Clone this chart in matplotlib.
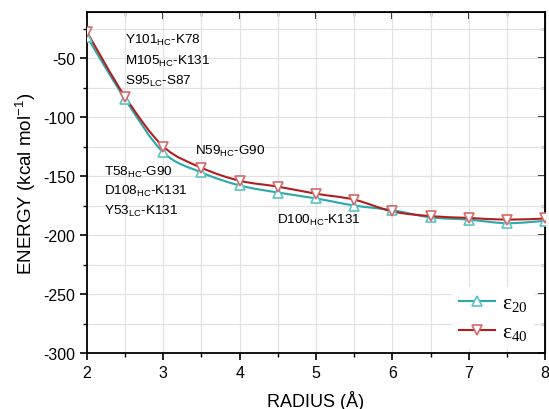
import numpy as np
import matplotlib
matplotlib.use("Agg")
import matplotlib.pyplot as plt
from matplotlib.path import Path
from matplotlib.patches import PathPatch
from matplotlib.ticker import MultipleLocator
from matplotlib.lines import Line2D

plt.rcParams['font.family'] = ['Liberation Sans', 'DejaVu Sans']
plt.rcParams['mathtext.default'] = 'regular'
plt.rcParams['axes.unicode_minus'] = False

radius = [2, 2.5, 3, 3.5, 4, 4.5, 5, 5.5, 6, 6.5, 7, 7.5, 8]
eps20 = [-32, -85, -130, -147, -158, -164, -169, -175, -179, -185, -187, -190, -188]
eps40 = [-28, -83, -125, -143, -154, -159, -165, -170, -180, -184, -185.5, -187, -186]

labels_top = ["Y101$_{HC}$-K78", "M105$_{HC}$-K131", "S95$_{LC}$-S87"]
labels_mid = ["T58$_{HC}$-G90", "D108$_{HC}$-K131", "Y53$_{LC}$-K131"]
label_n59 = "N59$_{HC}$-G90"
label_d100 = "D100$_{HC}$-K131"

teal = "#2BA8A8"
teal_m = "#5CC4C4"
red = "#B01E1E"
red_m = "#D46A6A"

fig = plt.figure(figsize=(5.49, 4.10), dpi=100)
ax = fig.add_axes([87 / 549, 1 - 354 / 410, 458 / 549, 341 / 410])


def smooth_path(xs, ys):
    xs = np.asarray(xs, float); ys = np.asarray(ys, float)
    verts = [(xs[0], ys[0])]
    codes = [Path.MOVETO]
    n = len(xs)
    for i in range(n - 1):
        p0 = np.array([xs[max(i - 1, 0)], ys[max(i - 1, 0)]])
        p1 = np.array([xs[i], ys[i]])
        p2 = np.array([xs[i + 1], ys[i + 1]])
        p3 = np.array([xs[min(i + 2, n - 1)], ys[min(i + 2, n - 1)]])
        c1 = p1 + (p2 - p0) / 6.0
        c2 = p2 - (p3 - p1) / 6.0
        verts += [tuple(c1), tuple(c2), tuple(p2)]
        codes += [Path.CURVE4] * 3
    return Path(verts, codes)


for ys, lc, mc, mk in [(eps20, teal, teal_m, '^'), (eps40, red, red_m, 'v')]:
    ax.add_patch(PathPatch(smooth_path(radius, ys), fill=False, ec=lc, lw=1.5, zorder=3))
    ax.plot(radius, ys, linestyle='none', marker=mk, ms=7, mfc='white', mec=mc,
            mew=1.2, zorder=4)

ax.set_xlim(2, 8)
ax.set_ylim(-300, -11)
ax.xaxis.set_major_locator(MultipleLocator(1))
ax.xaxis.set_minor_locator(MultipleLocator(0.5))
ax.yaxis.set_major_locator(MultipleLocator(50))
ax.yaxis.set_minor_locator(MultipleLocator(25))
ax.grid(True, which='both', color='#e2e2e2', lw=0.9, zorder=0)
ax.set_axisbelow(True)
ax.tick_params(which='major', direction='out', length=5, width=1.2, labelsize=11.5)
ax.tick_params(which='minor', direction='out', length=3, width=1.0)
for s in ax.spines.values():
    s.set_linewidth(1.3)

secx = ax.secondary_xaxis('top')
secx.xaxis.set_major_locator(MultipleLocator(1))
secx.xaxis.set_minor_locator(MultipleLocator(0.5))
secx.tick_params(which='major', direction='in', length=5, width=1.2, labeltop=False)
secx.tick_params(which='minor', direction='in', length=3, width=1.0)
secy = ax.secondary_yaxis('right')
secy.yaxis.set_major_locator(MultipleLocator(50))
secy.yaxis.set_minor_locator(MultipleLocator(25))
secy.tick_params(which='major', direction='in', length=5, width=1.2, labelright=False)
secy.tick_params(which='minor', direction='in', length=3, width=1.0)

ax.set_xlabel("RADIUS (Å)", fontsize=13, labelpad=7)
ax.set_ylabel("ENERGY (kcal mol$^{-1}$)", fontsize=13.5, labelpad=4)

fs = 9.7
for i, t in enumerate(labels_top):
    ax.text(2.498, [-33.9, -51.7, -68.6][i], t, fontsize=fs, va='center', ha='left')
for i, t in enumerate(labels_mid):
    ax.text(2.227, [-145.8, -161.9, -178.8][i], t, fontsize=fs, va='center', ha='left')
ax.text(3.415, -128, label_n59, fontsize=fs, va='center', ha='left')
ax.text(4.486, -186.4, label_d100, fontsize=fs, va='center', ha='left')

handles = [Line2D([], [], color=teal, lw=1.5, marker='^', ms=7, mfc='white', mec=teal_m, mew=1.2),
           Line2D([], [], color=red, lw=1.5, marker='v', ms=7, mfc='white', mec=red_m, mew=1.2)]
ax.legend(handles, [r'$\varepsilon_{20}$', r'$\varepsilon_{40}$'], loc='lower right',
          bbox_to_anchor=(0.985, 0.0), frameon=True, framealpha=1, edgecolor='none',
          fancybox=False, prop={'family': 'Liberation Serif', 'size': 15.5},
          handlelength=1.7, labelspacing=0.42, borderaxespad=0.2, handletextpad=0.3,
          borderpad=0.3)

fig.savefig("out.png", dpi=100)
